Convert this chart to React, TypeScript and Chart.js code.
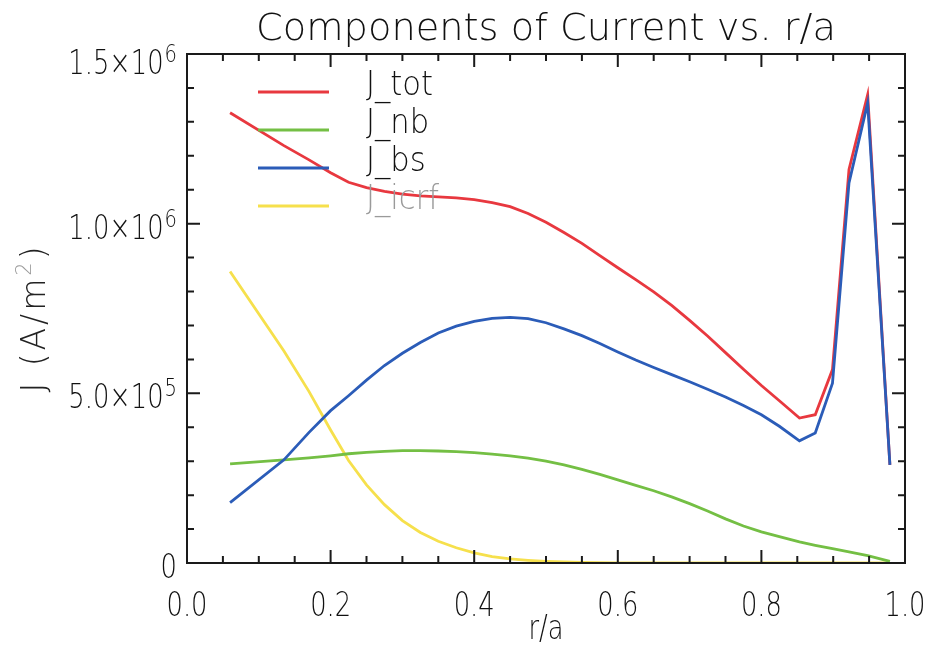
import { useEffect, useRef } from "react";
import { Chart, registerables } from "chart.js";

Chart.register(...registerables);

// r/a grid
const R = [
  0.06, 0.135, 0.17, 0.2, 0.225, 0.25, 0.275, 0.3, 0.325, 0.35, 0.375, 0.4,
  0.425, 0.45, 0.475, 0.5, 0.525, 0.55, 0.575, 0.6, 0.625, 0.65, 0.675, 0.7,
  0.725, 0.75, 0.775, 0.8, 0.825, 0.853, 0.875, 0.899, 0.922, 0.948, 0.979,
];

// A/m^2
const J_TOT = [
  1327000, 1230000, 1188000, 1150000, 1122000, 1106000, 1095000, 1087000,
  1082000, 1079000, 1076000, 1071000, 1062000, 1050000, 1030000, 1004000,
  974000, 942000, 906000, 870000, 835000, 799000, 759000, 715000, 669000,
  620000, 571000, 523000, 478000, 427000, 437000, 570000, 1160000, 1380000,
  289000,
];
const J_NB = [
  292000, 304000, 310000, 316000, 322000, 326000, 329000, 331000, 331000,
  330000, 328000, 325000, 321000, 316000, 309000, 300000, 289000, 276000,
  261000, 245000, 229000, 213000, 195000, 175000, 153000, 130000, 109000,
  92000, 78000, 62000, 52000, 42000, 33000, 22000, 5000,
];
const J_BS = [
  178000, 304000, 385000, 449000, 493000, 539000, 582000, 618000, 650000,
  678000, 698000, 712000, 721000, 724000, 720000, 708000, 690000, 670000,
  647000, 622000, 598000, 576000, 555000, 534000, 512000, 489000, 464000,
  437000, 403000, 360000, 383000, 530000, 1120000, 1356000, 289000,
];
const J_ICRF = [
  859000, 625000, 505000, 392000, 302000, 230000, 172000, 125000, 90000,
  64000, 45000, 30000, 19000, 12000, 8000, 5000, 3000, 1500, 1000, 0, 0, 0, 0,
  0, 0, 0, 0, 0, 0, 0, 0, 0, 0, 0, 0,
];

const SERIES_LABELS = ["J_tot", "J_nb", "J_bs", "J_icrf"];
const SERIES_COLORS = ["#e8383f", "#74bf44", "#2b5cb8", "#f6e04c"];
const LEGEND_TEXT_COLORS = ["#111111", "#111111", "#111111", "#9a9a9a"];

const X_TICKS = [0, 0.2, 0.4, 0.6, 0.8, 1.0];
const X_TICK_LABELS = ["0.0", "0.2", "0.4", "0.6", "0.8", "1.0"];
const Y_TICKS = [0, 500000, 1000000, 1500000];
const Y_TICK_MANTISSA = ["0", "5.0", "1.0", "1.5"];
const Y_TICK_EXP = ["", "5", "6", "6"];

const TITLE = "Components of Current vs. r/a";
const X_TITLE = "r/a";
const Y_TITLE_MAIN = "J (A/m";
const Y_TITLE_SUP = "2";
const Y_TITLE_END = ")";

const FONT_FAMILY = "'DejaVu Sans', sans-serif";
const FONT_WEIGHT = 200;

function setFont(ctx: CanvasRenderingContext2D, size: number) {
  ctx.font = `${FONT_WEIGHT} ${size}px ${FONT_FAMILY}`;
}

function drawText(
  ctx: CanvasRenderingContext2D,
  s: string,
  x: number,
  y: number,
  size: number,
  align: CanvasTextAlign,
  sx = 1,
  color = "#111111",
  spacing = 0
) {
  ctx.save();
  setFont(ctx, size);
  (ctx as any).letterSpacing = `${spacing}px`;
  ctx.fillStyle = color;
  ctx.textBaseline = "alphabetic";
  ctx.textAlign = align;
  ctx.translate(x, y);
  ctx.scale(sx, 1);
  ctx.fillText(s, 0, 0);
  ctx.restore();
}

function textWidth(ctx: CanvasRenderingContext2D, s: string, size: number, sx = 1, spacing = 0) {
  ctx.save();
  setFont(ctx, size);
  (ctx as any).letterSpacing = `${spacing}px`;
  const w = ctx.measureText(s).width * sx;
  ctx.restore();
  return w;
}

const idlPlugin = {
  id: "idlFrame",
  afterDraw(chart: any) {
    const ctx: CanvasRenderingContext2D = chart.ctx;
    const { left, right, top, bottom } = chart.chartArea;
    const xs = chart.scales.x;
    const ys = chart.scales.y;
    ctx.save();
    ctx.strokeStyle = "#1a1a1a";
    ctx.lineWidth = 2;
    ctx.strokeRect(left, top, right - left, bottom - top);

    ctx.beginPath();
    for (let i = 0; i <= 20; i++) {
      const v = i * 0.05;
      const px = xs.getPixelForValue(v);
      const len = i % 4 === 0 ? 13 : 7;
      ctx.moveTo(px, bottom);
      ctx.lineTo(px, bottom - len);
      ctx.moveTo(px, top);
      ctx.lineTo(px, top + len);
    }
    for (let i = 0; i <= 15; i++) {
      const v = i * 100000;
      const py = ys.getPixelForValue(v);
      const len = i % 5 === 0 ? 13 : 7;
      ctx.moveTo(left, py);
      ctx.lineTo(left + len, py);
      ctx.moveTo(right, py);
      ctx.lineTo(right - len, py);
    }
    ctx.stroke();

    const TICK_SIZE = 33;
    const SX = 0.78;
    X_TICKS.forEach((v, i) => {
      const px = xs.getPixelForValue(v);
      drawText(ctx, X_TICK_LABELS[i], px, bottom + 53, TICK_SIZE, "center", SX);
    });

    Y_TICKS.forEach((v, i) => {
      const py = ys.getPixelForValue(v);
      const base = py + 12 + (i === 3 ? 8 : 3);
      const mant = Y_TICK_MANTISSA[i];
      const exp = Y_TICK_EXP[i];
      const rightEdge = left - 10;
      if (!exp) {
        drawText(ctx, mant, rightEdge, base, TICK_SIZE, "right", SX);
      } else {
        const supSize = 25;
        const wSup = textWidth(ctx, exp, supSize, SX);
        const main = mant + "\u00d710";
        drawText(ctx, exp, rightEdge, base - 12, supSize, "right", SX);
        drawText(ctx, main, rightEdge - wSup - 1, base, TICK_SIZE, "right", SX);
      }
    });

    {
      const size = 38;
      const w = textWidth(ctx, TITLE, size, 1);
      const sx = 580 / w;
      drawText(ctx, TITLE, (left + right) / 2, 40, size, "center", sx);
    }

    drawText(ctx, X_TITLE, (left + right) / 2, 639, TICK_SIZE, "center", SX);

    {
      ctx.save();
      ctx.translate(45, 318);
      ctx.rotate(-Math.PI / 2);
      const size = 33;
      const supSize = 21;
      const w1 = textWidth(ctx, Y_TITLE_MAIN, size);
      const w2 = textWidth(ctx, Y_TITLE_SUP, supSize);
      const w3 = textWidth(ctx, Y_TITLE_END, size);
      const nChars = Y_TITLE_MAIN.length + Y_TITLE_SUP.length + Y_TITLE_END.length;
      const sp = Math.max(0, Math.min(3, (152 - (w1 + w2 + w3)) / nChars));
      const a = textWidth(ctx, Y_TITLE_MAIN, size, 1, sp);
      const b = textWidth(ctx, Y_TITLE_SUP, supSize, 1, sp);
      const c = textWidth(ctx, Y_TITLE_END, size, 1, sp);
      const x0 = -(a + b + c) / 2;
      drawText(ctx, Y_TITLE_MAIN, x0, 0, size, "left", 1, "#222222", sp);
      drawText(ctx, Y_TITLE_SUP, x0 + a, -14, supSize, "left", 1, "#9a9a9a", sp);
      drawText(ctx, Y_TITLE_END, x0 + a + b, 0, size, "left", 1, "#222222", sp);
      ctx.restore();
    }

    const legendYs = [92, 130, 168, 206];
    chart.data.datasets.forEach((ds: any, i: number) => {
      const y = legendYs[i];
      ctx.save();
      ctx.strokeStyle = ds.borderColor;
      ctx.lineWidth = 3;
      ctx.beginPath();
      ctx.moveTo(258, y);
      ctx.lineTo(329, y);
      ctx.stroke();
      ctx.restore();
      drawText(ctx, ds.label, 366, y + 3, 34, "left", 0.9, LEGEND_TEXT_COLORS[i]);
    });
    ctx.restore();
  },
};

export default function App() {
  const ref = useRef<HTMLCanvasElement | null>(null);
  useEffect(() => {
    if (!ref.current) return;
    const series = [J_TOT, J_NB, J_BS, J_ICRF];
    const orders = [1, 2, 0, 3];
    const chart = new Chart(ref.current, {
      type: "line",
      data: {
        datasets: series.map((arr, i) => ({
          label: SERIES_LABELS[i],
          data: R.map((x, j) => ({ x, y: arr[j] })),
          borderColor: SERIES_COLORS[i],
          backgroundColor: SERIES_COLORS[i],
          borderWidth: 2.8,
          pointRadius: 0,
          tension: 0,
          fill: false,
          order: orders[i],
        })),
      },
      options: {
        animation: false,
        responsive: false,
        devicePixelRatio: 1,
        layout: { padding: { left: 187, right: 25, top: 54, bottom: 85 } },
        plugins: {
          legend: { display: false },
          title: { display: false },
          tooltip: { enabled: false },
        },
        scales: {
          x: { type: "linear", min: 0, max: 1, display: false },
          y: { type: "linear", min: 0, max: 1500000, display: false },
        },
      },
      plugins: [idlPlugin],
    });
    return () => chart.destroy();
  }, []);
  return (
    <div style={{ position: "fixed", left: 0, top: 0, width: 930, height: 648, background: "#fff" }}>
      <canvas ref={ref} width={930} height={648} />
    </div>
  );
}
